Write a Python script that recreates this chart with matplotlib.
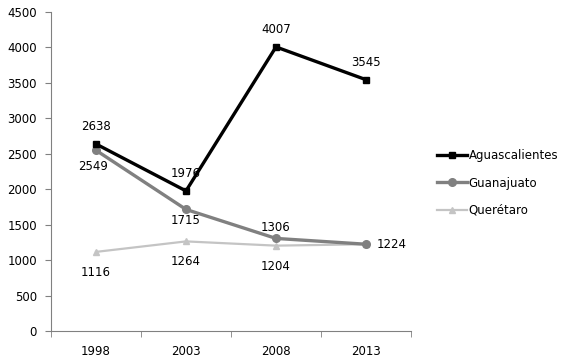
import matplotlib
matplotlib.use("Agg")
import matplotlib.pyplot as plt
import numpy as np

years = ["1998", "2003", "2008", "2013"]
aguascalientes = [2638, 1976, 4007, 3545]
guanajuato = [2549, 1715, 1306, 1224]
queretaro = [1116, 1264, 1204, 1224]
yticks = [0, 500, 1000, 1500, 2000, 2500, 3000, 3500, 4000, 4500]

plt.rcParams['font.family'] = ['DejaVu Sans']
fig = plt.figure(figsize=(5.68, 3.61), dpi=100)
ax = fig.add_axes([51/568, 1-331/361, 360/568, 319/361])

x = np.arange(len(years))
ax.plot(x, queretaro, color="#c4c4c4", lw=1.6, marker="^", ms=5, label="Querétaro", zorder=2)
ax.plot(x, guanajuato, color="#808080", lw=2.4, marker="o", ms=5.5, label="Guanajuato", zorder=3)
ax.plot(x, aguascalientes, color="black", lw=2.4, marker="s", ms=5, label="Aguascalientes", zorder=4)

fs = 8.5
# Aguascalientes labels (above)
for i, v in enumerate(aguascalientes):
    ax.annotate(str(v), (x[i], v), xytext=(0, 8), textcoords="offset points",
                ha="center", va="bottom", fontsize=fs)
# Guanajuato labels
g_off = [(-2, -7, "center", "top"), (0, -3, "center", "top"), (0, 3, "center", "bottom"), (8, 0, "left", "center")]
for i, v in enumerate(guanajuato):
    ox, oy, ha, va = g_off[i]
    ax.annotate(str(v), (x[i], v), xytext=(ox, oy), textcoords="offset points",
                ha=ha, va=va, fontsize=fs)
# Querétaro labels (below), last one coincides with Guanajuato
for i, v in enumerate(queretaro[:3]):
    ax.annotate(str(v), (x[i], v), xytext=(0, -10), textcoords="offset points",
                ha="center", va="top", fontsize=fs)

ax.set_xlim(-0.5, 3.5)
ax.set_ylim(0, 4500)
ax.set_yticks(yticks)
ax.set_yticklabels([str(t) for t in yticks], fontsize=fs)
ax.set_xticks(x)
ax.set_xticklabels(years, fontsize=fs)
ax.set_xticks(np.arange(-0.5, 4, 1), minor=True)
ax.tick_params(axis="x", which="major", length=0, pad=10)
ax.tick_params(axis="x", which="minor", length=4, direction="out", color="#808080")
ax.tick_params(axis="y", length=4, direction="out", color="#808080", pad=6)
for s in ["top", "right"]:
    ax.spines[s].set_visible(False)
for s in ["left", "bottom"]:
    ax.spines[s].set_color("#808080")

handles, labels = ax.get_legend_handles_labels()
order = [2, 1, 0]
fig.legend([handles[i] for i in order], [labels[i] for i in order],
           loc="center left", bbox_to_anchor=(426/568, 1-183/361), frameon=False,
           fontsize=fs, handlelength=2.6, handletextpad=0.1, labelspacing=1.2)

fig.savefig("out.png", dpi=100)
